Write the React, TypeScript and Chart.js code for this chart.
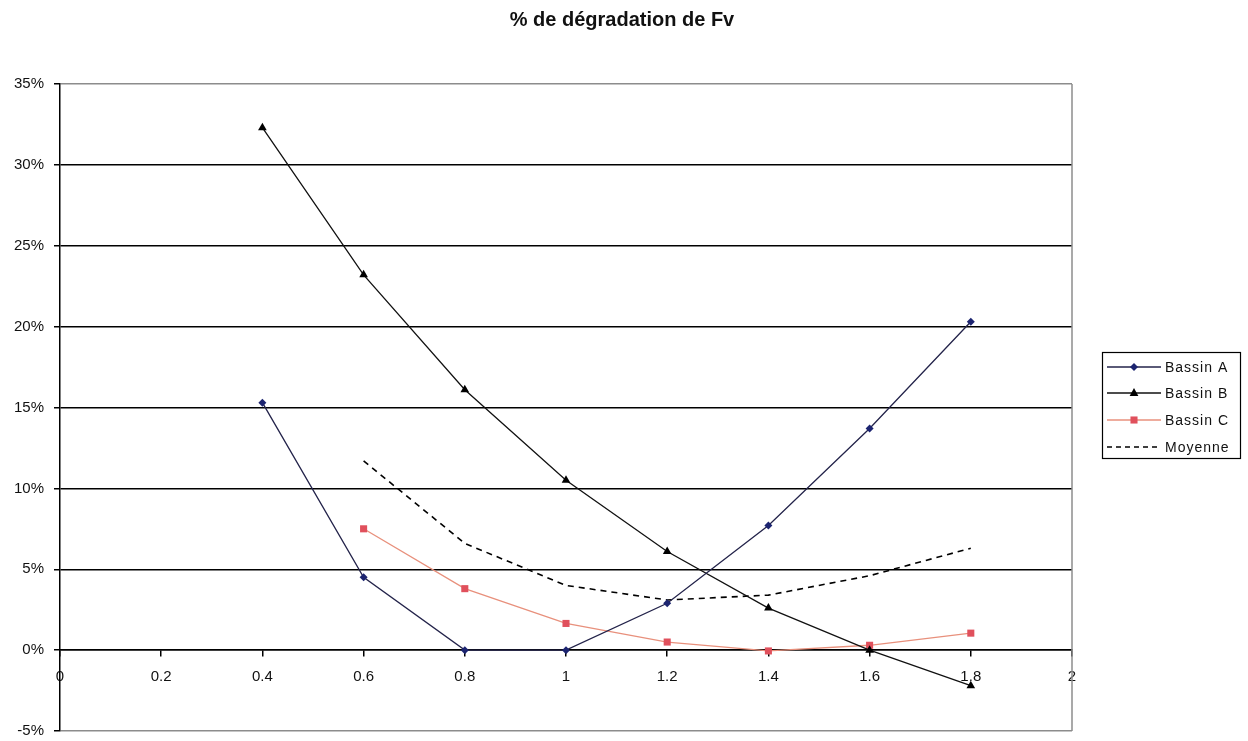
import React, { useEffect, useRef } from "react";
import { Chart, registerables } from "chart.js";

Chart.register(...registerables);

const titleText = "% de dégradation de Fv";
const xValues = [0.4, 0.6, 0.8, 1.0, 1.2, 1.4, 1.6, 1.8];
const bassinA = [15.3, 4.5, 0, 0, 2.9, 7.7, 13.7, 20.3];
const bassinB = [32.3, 23.2, 16.1, 10.5, 6.1, 2.6, 0, -2.2];
const bassinC = [null, 7.5, 3.8, 1.65, 0.5, -0.05, 0.3, 1.05];
const moyenne = [null, 11.7, 6.6, 4.0, 3.1, 3.4, 4.6, 6.3];
const seriesNames = ["Bassin A", "Bassin B", "Bassin C", "Moyenne"];
const xMin = 0;
const xMax = 2;
const xStep = 0.2;
const yMin = -5;
const yMax = 35;
const yStep = 5;

type Style = {
  line: string;
  marker: string;
  shape: "rectRot" | "triangle" | "rect" | "none";
  radius: number;
  dash: number[];
  width: number;
};

const styles: Style[] = [
  { line: "#23234a", marker: "#1c2470", shape: "rectRot", radius: 4, dash: [], width: 1.3 },
  { line: "#111111", marker: "#000000", shape: "triangle", radius: 5, dash: [], width: 1.3 },
  { line: "#e8907c", marker: "#e0505c", shape: "rect", radius: 5, dash: [], width: 1.3 },
  { line: "#000000", marker: "#000000", shape: "none", radius: 0, dash: [6, 5], width: 1.6 },
];

const toPoints = (vals: (number | null)[]) =>
  xValues
    .map((x, i) => ({ x, y: vals[i] }))
    .filter((p) => p.y !== null) as { x: number; y: number }[];

const FONT = "'Liberation Sans', Arial, sans-serif";

function drawMarker(ctx: CanvasRenderingContext2D, s: Style, x: number, y: number) {
  if (s.shape === "none") return;
  ctx.save();
  ctx.fillStyle = s.marker;
  ctx.beginPath();
  const r = s.radius;
  if (s.shape === "rectRot") {
    ctx.moveTo(x, y - r);
    ctx.lineTo(x + r, y);
    ctx.lineTo(x, y + r);
    ctx.lineTo(x - r, y);
  } else if (s.shape === "triangle") {
    ctx.moveTo(x, y - r);
    ctx.lineTo(x + r * 0.87, y + r * 0.6);
    ctx.lineTo(x - r * 0.87, y + r * 0.6);
  } else {
    const h = r * Math.SQRT1_2;
    ctx.rect(x - h, y - h, 2 * h, 2 * h);
  }
  ctx.closePath();
  ctx.fill();
  ctx.restore();
}

const decorPlugin = {
  id: "decor",
  beforeDatasetsDraw(chart: any) {
    const { ctx, chartArea } = chart;
    ctx.save();
    ctx.strokeStyle = "#8c8c8c";
    ctx.lineWidth = 1.5;
    ctx.beginPath();
    ctx.moveTo(chartArea.right, chartArea.top);
    ctx.lineTo(chartArea.right, chartArea.bottom);
    ctx.stroke();
    ctx.restore();
  },
  afterDraw(chart: any) {
    const { ctx } = chart;
    ctx.save();
    // title
    ctx.fillStyle = "#111";
    ctx.font = `bold 20px ${FONT}`;
    ctx.textAlign = "center";
    ctx.textBaseline = "middle";
    ctx.fillText(titleText, 622, 20);

    // legend
    const bx = 1102, by = 352, bw = 138, bh = 106;
    ctx.fillStyle = "#fff";
    ctx.fillRect(bx, by, bw, bh);
    ctx.strokeStyle = "#000";
    ctx.lineWidth = 1.2;
    ctx.strokeRect(bx + 0.5, by + 0.5, bw, bh);
    const rowsY = [367, 393, 420, 447];
    seriesNames.forEach((name, i) => {
      const s = styles[i];
      const y = rowsY[i];
      ctx.save();
      ctx.strokeStyle = s.line;
      ctx.lineWidth = s.width;
      ctx.setLineDash(s.dash.length ? [5, 4] : []);
      ctx.beginPath();
      ctx.moveTo(1107, y);
      ctx.lineTo(1161, y);
      ctx.stroke();
      ctx.restore();
      drawMarker(ctx, s, 1134, y);
      ctx.fillStyle = "#111";
      ctx.font = `14px ${FONT}`;
      (ctx as any).letterSpacing = "1px";
      ctx.textAlign = "left";
      ctx.textBaseline = "middle";
      ctx.fillText(name, 1165, y + 1);
      (ctx as any).letterSpacing = "0px";
    });
    ctx.restore();
  },
};

export default function App() {
  const ref = useRef<HTMLCanvasElement | null>(null);

  useEffect(() => {
    if (!ref.current) return;
    const allSeries = [bassinA, bassinB, bassinC, moyenne];
    const chart = new Chart(ref.current, {
      type: "scatter",
      data: {
        datasets: allSeries.map((vals, i) => {
          const s = styles[i];
          return {
            label: seriesNames[i],
            data: toPoints(vals),
            showLine: true,
            borderColor: s.line,
            borderWidth: s.width,
            borderDash: s.dash,
            backgroundColor: s.marker,
            pointBackgroundColor: s.marker,
            pointBorderColor: s.marker,
            pointBorderWidth: 0,
            pointStyle: s.shape === "none" ? false : s.shape,
            pointRadius: s.radius,
            pointHoverRadius: s.radius,
            tension: 0,
          } as any;
        }),
      },
      options: {
        animation: false,
        responsive: false,
        devicePixelRatio: 1,
        layout: { padding: { top: 84, right: 176, bottom: 10, left: 0 } },
        plugins: {
          legend: { display: false },
          title: { display: false },
          tooltip: { enabled: false },
        },
        scales: {
          x: {
            type: "linear",
            position: { y: 0 } as any,
            min: xMin,
            max: xMax,
            ticks: {
              stepSize: xStep,
              autoSkip: false,
              maxRotation: 0,
              padding: 12,
              color: "#111",
              font: { family: FONT, size: 15 },
              callback: (v: any) => String(Math.round(Number(v) * 10) / 10),
            },
            grid: {
              drawOnChartArea: false,
              drawTicks: true,
              tickLength: 6,
              tickColor: "#000",
              lineWidth: 1.5,
            },
            border: { display: true, color: "#000", width: 1.5 },
          },
          y: {
            type: "linear",
            min: yMin,
            max: yMax,
            afterFit: (scale: any) => {
              scale.width = 60;
              scale.paddingBottom = 0;
              scale.paddingTop = 0;
            },
            ticks: {
              stepSize: yStep,
              padding: 10,
              color: "#111",
              font: { family: FONT, size: 15 },
              callback: (v: any) => `${v}%`,
            },
            grid: {
              color: (c: any) =>
                c.tick && (c.tick.value === yMax || c.tick.value === yMin) ? "#8c8c8c" : "#000",
              lineWidth: 1.5,
              drawTicks: true,
              tickLength: 6,
              tickColor: "#000",
            },
            border: { display: true, color: "#000", width: 1.5 },
          },
        },
      },
      plugins: [decorPlugin],
    });
    return () => chart.destroy();
  }, []);

  return (
    <div style={{ position: "absolute", left: 0, top: 0, width: 1248, height: 741, background: "#fff" }}>
      <canvas ref={ref} width={1248} height={741} style={{ display: "block" }} />
    </div>
  );
}
